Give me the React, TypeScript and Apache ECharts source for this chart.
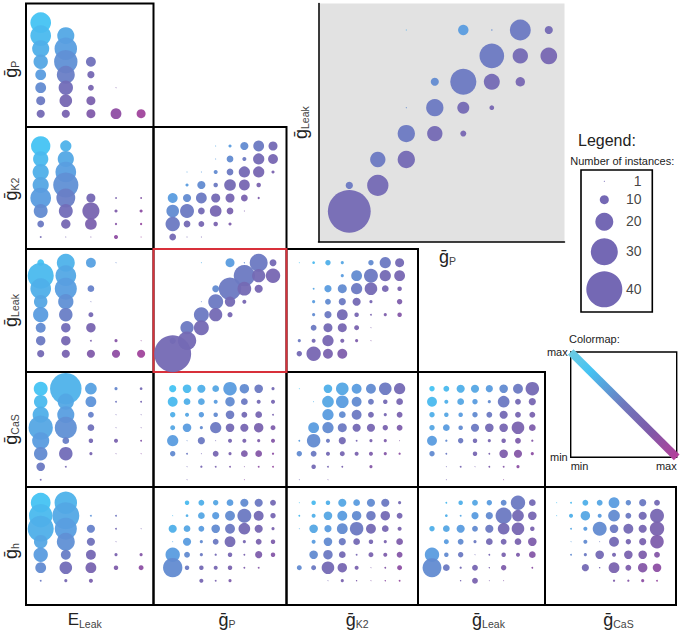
import React, { useEffect, useRef } from "react";
import * as echarts from "echarts";

// Counts per panel: rows run top to bottom, columns left to right.
const gP_ELeak = [
  [23, 0, 0, 0, 0], [23, 19, 0, 0, 0], [19, 25, 0, 0, 0], [16, 26, 11, 0, 0],
  [12, 20, 8, 0, 0], [12, 16, 6.5, 1, 0], [10, 14, 10, 0, 0], [9, 9, 10, 12, 10],
];
const gK2_ELeak = [
  [21.5, 12.5, 0, 0, 0], [17, 18, 0, 0, 0], [18, 23, 0, 0, 0], [18, 28, 0, 0, 0],
  [23, 21, 10, 2, 2], [15.5, 15.5, 19, 3.5, 3.5], [7.5, 10.5, 13, 2.5, 2.5], [2, 1, 1, 4.5, 1],
];
const gLeak_ELeak = [
  [7.5, 20, 11, 1, 0], [29, 23, 0, 0, 0], [23, 24.5, 7.5, 0, 0], [15, 17, 1, 0, 0],
  [17, 15, 5.5, 0, 0], [11, 10.5, 10.5, 0, 0], [10.5, 10.5, 2, 3.5, 1], [8, 9, 9, 9, 9],
];
const gCaS_ELeak = [
  [15.5, 35, 13, 3.5, 3], [15, 18, 12, 2, 2], [18, 19, 6.5, 1, 1], [27, 24.5, 7.5, 1, 1],
  [19, 7.5, 5, 4.5, 2], [15, 15, 3.5, 1, 1], [9.5, 2, 0, 0, 0], [2, 0, 0, 0, 0],
];
const gh_ELeak = [
  [22, 25, 0, 0, 0], [26, 30, 2, 2, 0], [29, 24.5, 9, 2, 1], [15, 20, 9, 1, 0],
  [16, 11, 11, 3.5, 3.5], [12, 14, 12, 5, 5.5], [2, 3.5, 4.5, 0, 0], [0, 0, 0, 0, 0],
];
const gK2_gP = [
  [0, 0, 0, 1, 3.5, 9, 12, 10], [0, 0, 0, 1, 7.5, 4.5, 12.5, 11],
  [0, 1, 1, 4.5, 7.5, 12.5, 12.5, 3.5], [0, 3.5, 9, 5, 13, 12, 5, 0],
  [11, 9, 12, 10, 10, 7.5, 2.5, 0], [14, 15.5, 7.5, 13, 7.5, 1, 0, 0],
  [16, 7.5, 6.5, 5, 3.5, 0, 0, 0], [7.5, 1, 1, 0, 0, 0, 0, 0],
];
const gLeak_gP = [
  [0, 0, 1, 0, 10, 1.3, 20, 7.7], [0, 0, 0, 0, 0, 23.6, 14.7, 16],
  [0, 0, 0, 7.7, 25, 15.3, 9, 0], [0, 0, 1, 16.6, 11.5, 4.5, 0, 0],
  [0, 0, 16.6, 14.7, 5.7, 0, 0, 0], [0, 14.7, 16.6, 0, 0, 0, 0, 0],
  [7, 20.4, 0, 0, 0, 0, 0, 0], [41, 0, 0, 0, 0, 0, 0, 0],
];
const gLeak_gK2 = [
  [1, 3, 6, 3.5, 0, 6, 12.5, 10], [0, 0, 0, 3.5, 12, 15.5, 12.5, 12],
  [0, 2, 8, 10, 12.5, 14, 7.5, 5], [0, 3.5, 6.5, 8, 9, 3.5, 0, 6],
  [0, 3.5, 8, 12, 5, 2, 3.5, 5], [0, 6.5, 10, 10, 5.5, 1, 0, 0],
  [3.5, 4.5, 12.5, 4.5, 3.5, 1, 0, 0], [6, 16, 11, 11, 0, 0, 0, 0],
];
const gCaS_gP = [
  [8, 9.5, 9, 7.5, 15, 10.5, 9.5, 3.5], [11, 7.5, 7.5, 4.5, 10.5, 7.5, 4.5, 4.5],
  [6, 4.5, 6, 5, 9.5, 6.5, 7.5, 2], [5.5, 9.5, 3.5, 12.5, 9.5, 9, 10.5, 5.5],
  [12.5, 1, 8, 1, 4.5, 4.5, 3.5, 4.5], [6, 2, 1, 6.5, 3.5, 7.5, 7.5, 2.5],
  [0, 1, 2.5, 2, 2, 1, 2, 2], [0, 1, 0, 0, 0, 1, 0, 0],
];
const gCaS_gK2 = [
  [1, 0, 9.5, 14, 11, 11, 14, 12.5], [0, 1, 13, 14, 11, 6.5, 5, 7.5],
  [0, 0, 12.5, 7.5, 11, 6.5, 3.5, 6.5], [0, 12, 12.5, 10, 9, 9, 6, 6.5],
  [2, 15, 4.5, 8, 2, 3.5, 3.5, 1], [6, 6.5, 4.5, 5.5, 4.5, 4.5, 3.5, 2.5],
  [0, 5, 2, 2, 0, 3.5, 0, 0], [1, 0, 1, 0, 0, 0, 0, 0],
];
const gCaS_gLeak = [
  [6, 6.5, 9, 9, 8, 9.5, 11, 15], [11, 4.5, 7.5, 6, 3.5, 13, 6.5, 8],
  [6, 5, 5, 6, 6.5, 9, 6.5, 6.5], [6, 7.5, 5, 9, 9.5, 9.5, 14, 7.5],
  [11, 2.5, 6, 5, 3.5, 5, 6.5, 2.5], [6, 2, 0, 5, 2, 9.5, 9, 3.5],
  [0, 1, 2, 1, 2, 2, 3.5, 0], [0, 1, 0, 0, 0, 1, 0, 0],
];
const gh_gP = [
  [0, 5, 6.5, 6, 7.5, 9, 9, 6.5], [1, 3, 7.5, 8, 11, 15.5, 11, 6],
  [9, 7.5, 6.5, 9.5, 11, 13, 9, 3.5], [1, 9, 3.5, 6.5, 12, 3.5, 6.5, 5],
  [16, 6.5, 3.5, 2.5, 5, 2, 8, 5], [21.5, 5, 5, 4.5, 5, 2, 2, 0],
  [0, 0, 4.5, 2, 3.5, 0, 0, 0], [0, 0, 0, 0, 0, 0, 0, 0],
];
const gh_gK2 = [
  [1, 5, 5, 9, 7.5, 9, 9, 3.5], [2, 4.5, 9.5, 11, 10.5, 10.5, 10.5, 6.5],
  [1, 9.5, 8, 12, 15, 11, 7.5, 4.5], [0, 4.5, 9.5, 8, 7.5, 5, 3.5, 7.5],
  [0, 9.5, 10.5, 7.5, 2, 5.5, 4.5, 6.5], [5.5, 5.5, 14, 10.5, 4.5, 1, 2, 5.5],
  [0, 0, 1, 3.5, 1.5, 1, 1.5, 2], [0, 0, 0, 0, 0, 0, 0, 0],
];
const gh_gLeak = [
  [0, 2, 5, 6.5, 6, 6.5, 16, 7.5], [0, 3, 2, 8, 8, 18, 13, 9.5],
  [6, 7.5, 9, 6.5, 9, 13, 14, 5], [0, 5.5, 6.5, 3.5, 7.5, 6.5, 7.5, 9.5],
  [16, 5, 6, 1, 2, 5, 4.5, 7.5], [21, 7.5, 2.5, 6.5, 1.5, 6, 0, 2],
  [0, 0, 1.5, 6.5, 1, 1, 0, 0], [0, 0, 0, 0, 0, 0, 0, 0],
];
const gh_gCaS = [
  [1, 2, 6.5, 6.5, 12, 6, 8, 6.5], [1, 4.5, 10.5, 4.5, 13, 6.5, 9, 15.5],
  [0, 2, 4.5, 15.5, 9.5, 11, 9, 16], [0, 1, 4.5, 1, 11, 6, 8, 15],
  [0, 2, 3.5, 9.5, 4.5, 9.5, 9.5, 6.5], [0, 0, 8, 1.5, 12, 6.5, 10.5, 9.5],
  [0, 0, 0, 0, 2.5, 2.5, 3.5, 2], [0, 0, 0, 0, 0, 0, 0, 0],
];
const legendCounts = [1, 10, 20, 30, 40];
const colXNames = ["ELeak", "P", "K2", "Leak", "CaS"];
const rowYNames = ["P", "K2", "Leak", "CaS", "h"];

const FONT = '"Liberation Sans", Arial, sans-serif';
const PX_PER_COUNT = 0.9;
const STOPS: [number, string][] = [
  [0, "#45c3f3"], [0.3, "#5b9ade"], [0.4, "#6880c8"], [0.5, "#7469b4"], [0.7, "#7c60ad"], [0.85, "#8c50a4"], [1, "#a0449c"],
];
const hex = (s: string) => [1, 3, 5].map((i) => parseInt(s.slice(i, i + 2), 16));
function ramp(t: number) {
  for (let i = 1; i < STOPS.length; i++) {
    if (t <= STOPS[i][0]) {
      const [t0, c0] = STOPS[i - 1];
      const [t1, c1] = STOPS[i];
      const f = (t - t0) / (t1 - t0);
      const a = hex(c0), b = hex(c1);
      return `rgb(${a.map((v, k) => Math.round(v + (b[k] - v) * f)).join(",")})`;
    }
  }
  return STOPS[STOPS.length - 1][1];
}

// Layout: panel edges, first mark centre, spacing between marks.
const colEdges = [26, 153.5, 286.5, 418, 545, 676];
const rowEdges = [3.5, 127, 249, 372, 487, 605];
const colFirst = [40.7, 172.7, 299.3, 432, 556.7];
const rowFirst = [22.7, 146, 262.7, 388.7, 502.7];
const colStep = [25.1, 14.33, 14.33, 14.33, 14.33];
const ROW_STEP = 13;

const rich = {
  g: { fontSize: 18, fontFamily: FONT, color: "#222" },
  e: { fontSize: 17, fontFamily: FONT, color: "#222" },
  s: { fontSize: 10.5, fontFamily: FONT, color: "#444", verticalAlign: "bottom", padding: [8, 0, 0, 0] },
};
const nameOf = (label: string) =>
  label === "ELeak" ? "{e|E}{s|Leak}" : `{g|ḡ}{s|${label}}`;

const grids: any[] = [], xAxes: any[] = [], yAxes: any[] = [], series: any[] = [];

function addPanel(p: {
  matrix: number[][]; l: number; r: number; t: number; b: number;
  x0: number; dx: number; y0: number; dy: number; scale?: number;
  xName?: string; yName?: string; xShift?: number; yShift?: number; bg?: string; border?: string;
  axisLines?: boolean; frame?: boolean; xGap?: number; yGap?: number;
}) {
  const idx = grids.length;
  const frame = p.frame !== false;
  grids.push({
    show: true, left: p.l, top: p.t, width: p.r - p.l, height: p.b - p.t,
    backgroundColor: p.bg || "transparent",
    borderColor: p.border || "#000", borderWidth: frame ? 2 : 0,
    containLabel: false, outerBoundsMode: "none",
  });
  const base = {
    axisTick: { show: false }, axisLabel: { show: false }, splitLine: { show: false },
    axisLine: p.axisLines ? { show: true, onZero: false, lineStyle: { color: "#000", width: 1.5 } } : { show: false },
  };
  xAxes.push({
    ...base, gridIndex: idx, type: "value",
    min: (p.l - p.x0) / p.dx, max: (p.r - p.x0) / p.dx,
    name: p.xName ? nameOf(p.xName) : "", nameLocation: "middle", nameGap: p.xGap ?? 22,
    nameTextStyle: { rich, padding: [0, 0, 0, p.xShift ?? 0] },
  });
  yAxes.push({
    ...base, gridIndex: idx, type: "value", inverse: true,
    min: (p.t - p.y0) / p.dy, max: (p.b - p.y0) / p.dy,
    name: p.yName ? nameOf(p.yName) : "", nameLocation: "middle", nameGap: p.yGap ?? 11, nameRotate: 90,
    nameTextStyle: { rich, padding: [0, p.yShift ?? 0, 0, 0] },
  });
  const nCols = p.matrix[0].length;
  const data: number[][] = [];
  p.matrix.forEach((row, j) =>
    row.forEach((n, i) => {
      if (n > 0) data.push([i, j, n, (i / (nCols - 1) + j / 7) / 2]);
    })
  );
  const scale = p.scale ?? 1;
  series.push({
    type: "scatter", xAxisIndex: idx, yAxisIndex: idx, data, clip: false,
    symbolSize: (v: number[]) => v[2] * PX_PER_COUNT * scale,
    itemStyle: { color: (c: any) => ramp(c.value[3]), opacity: 0.95 },
    silent: true,
  });
}

const cell = (c: number, r: number, matrix: number[][], extra: any = {}) =>
  addPanel({
    matrix, l: colEdges[c], r: colEdges[c + 1], t: rowEdges[r], b: rowEdges[r + 1],
    x0: colFirst[c], dx: colStep[c], y0: rowFirst[r], dy: ROW_STEP, ...extra,
    xName: r === 4 ? colXNames[c] : undefined,
    yName: c === 0 ? rowYNames[r] : undefined,
    xGap: 5, yGap: 6,
    xShift: r === 4 ? [-10, 14, 10, 14, 16][c] : 0,
    yShift: c === 0 ? [8, 2, 0, 0, 10][r] : 0,
  });

// Enlarged panel (same counts as the highlighted one).
addPanel({
  matrix: gLeak_gP, l: 318.5, r: 564.5, t: 3.5, b: 241.7,
  x0: 349.3, dx: 28.5, y0: 30, dy: 25.9, scale: 1.16,
  bg: "#e2e2e2", frame: false, axisLines: true, xName: "P", yName: "Leak", xGap: 6, yGap: 8, xShift: 12,
});

cell(0, 0, gP_ELeak);
cell(0, 1, gK2_ELeak);
cell(1, 1, gK2_gP);
cell(0, 2, gLeak_ELeak);
cell(2, 2, gLeak_gK2);
cell(0, 3, gCaS_ELeak);
cell(1, 3, gCaS_gP);
cell(2, 3, gCaS_gK2);
cell(3, 3, gCaS_gLeak);
cell(0, 4, gh_ELeak);
cell(1, 4, gh_gP);
cell(2, 4, gh_gK2);
cell(3, 4, gh_gLeak);
cell(4, 4, gh_gCaS);
cell(1, 2, gLeak_gP, { border: "#d8303a" });

// Size legend
{
  const idx = grids.length;
  const L = 581, R = 652.3, T = 170, B = 312;
  const offsets = [11.3, 29.7, 51.7, 81.7, 119.3];
  const labelOffsets = [11.3, 28.5, 51, 81, 119];
  grids.push({ show: true, left: L, top: T, width: R - L, height: B - T, borderColor: "#000", borderWidth: 1.6, backgroundColor: "transparent", outerBoundsMode: "none" });
  const hidden = { show: false };
  xAxes.push({ gridIndex: idx, type: "value", min: 0, max: 1, show: false, splitLine: hidden });
  yAxes.push({ gridIndex: idx, type: "value", min: 0, max: B - T, inverse: true, show: false, splitLine: hidden });
  series.push({
    type: "scatter", xAxisIndex: idx, yAxisIndex: idx, clip: false, silent: true,
    data: legendCounts.map((n, i) => [0.327, offsets[i], n]),
    symbolSize: (v: number[]) => Math.max(1, v[2] * PX_PER_COUNT),
    itemStyle: { color: "#7468b4", opacity: 1 },
  });
  series.push({
    type: "scatter", xAxisIndex: idx, yAxisIndex: idx, clip: false, silent: true,
    data: legendCounts.map((n, i) => [0.85, labelOffsets[i], n]),
    symbolSize: 0,
    label: {
      show: true, position: "left", distance: 0, formatter: (c: any) => String(c.value[2]),
      fontFamily: FONT, fontSize: 14, color: "#111",
    },
  });
}

// Colormap
{
  const idx = grids.length;
  const L = 570.7, R = 676.7, T = 352, B = 457.3;
  grids.push({ show: true, left: L, top: T, width: R - L, height: B - T, borderColor: "#000", borderWidth: 1.4, backgroundColor: "transparent", outerBoundsMode: "none" });
  const common = { splitLine: { show: false }, axisTick: { show: false }, axisLine: { show: false } };
  const labels = (v: number) => (v === 0 ? "min" : "max");
  xAxes.push({
    ...common, gridIndex: idx, type: "value", min: 0, max: 1, interval: 1,
    axisLabel: { formatter: labels, fontFamily: FONT, fontSize: 11, color: "#222", margin: 3, alignMinLabel: "left", alignMaxLabel: "right" },
  });
  yAxes.push({
    ...common, gridIndex: idx, type: "value", min: 0, max: 1, interval: 1,
    axisLabel: { formatter: labels, fontFamily: FONT, fontSize: 11, color: "#222", margin: 3 },
  });
  series.push({
    type: "line", xAxisIndex: idx, yAxisIndex: idx, silent: true, symbol: "none",
    data: [[0, 1], [1, 0]],
    lineStyle: {
      width: 8, cap: "butt",
      color: new echarts.graphic.LinearGradient(0, 0, 1, 1, [
        { offset: 0, color: "#6ccbe2" }, { offset: 0.18, color: "#45c3f3" },
        { offset: 0.5, color: "#6f78bd" }, { offset: 0.75, color: "#7e5aa9" }, { offset: 1, color: "#b3409a" },
      ]),
    },
  });
}

const texts = [
  { x: 578, y: 140, text: "Legend:", size: 16 },
  { x: 570.3, y: 160.5, text: "Number of instances:", size: 11 },
  { x: 569, y: 339, text: "Colormap:", size: 11 },
];

export default function App() {
  const ref = useRef<HTMLDivElement>(null);
  useEffect(() => {
    document.body.style.margin = "0";
    const chart = echarts.init(ref.current!, undefined, { renderer: "svg" });
    chart.setOption({
      animation: false,
      backgroundColor: "#ffffff",
      grid: grids,
      xAxis: xAxes,
      yAxis: yAxes,
      series,
      graphic: texts.map((t) => ({
        type: "text", x: t.x, y: t.y,
        style: { text: t.text, fontSize: t.size, fontFamily: FONT, fill: "#222", verticalAlign: "middle" },
      })),
    });
    return () => chart.dispose();
  }, []);
  return <div ref={ref} style={{ width: 683, height: 632 }} />;
}
